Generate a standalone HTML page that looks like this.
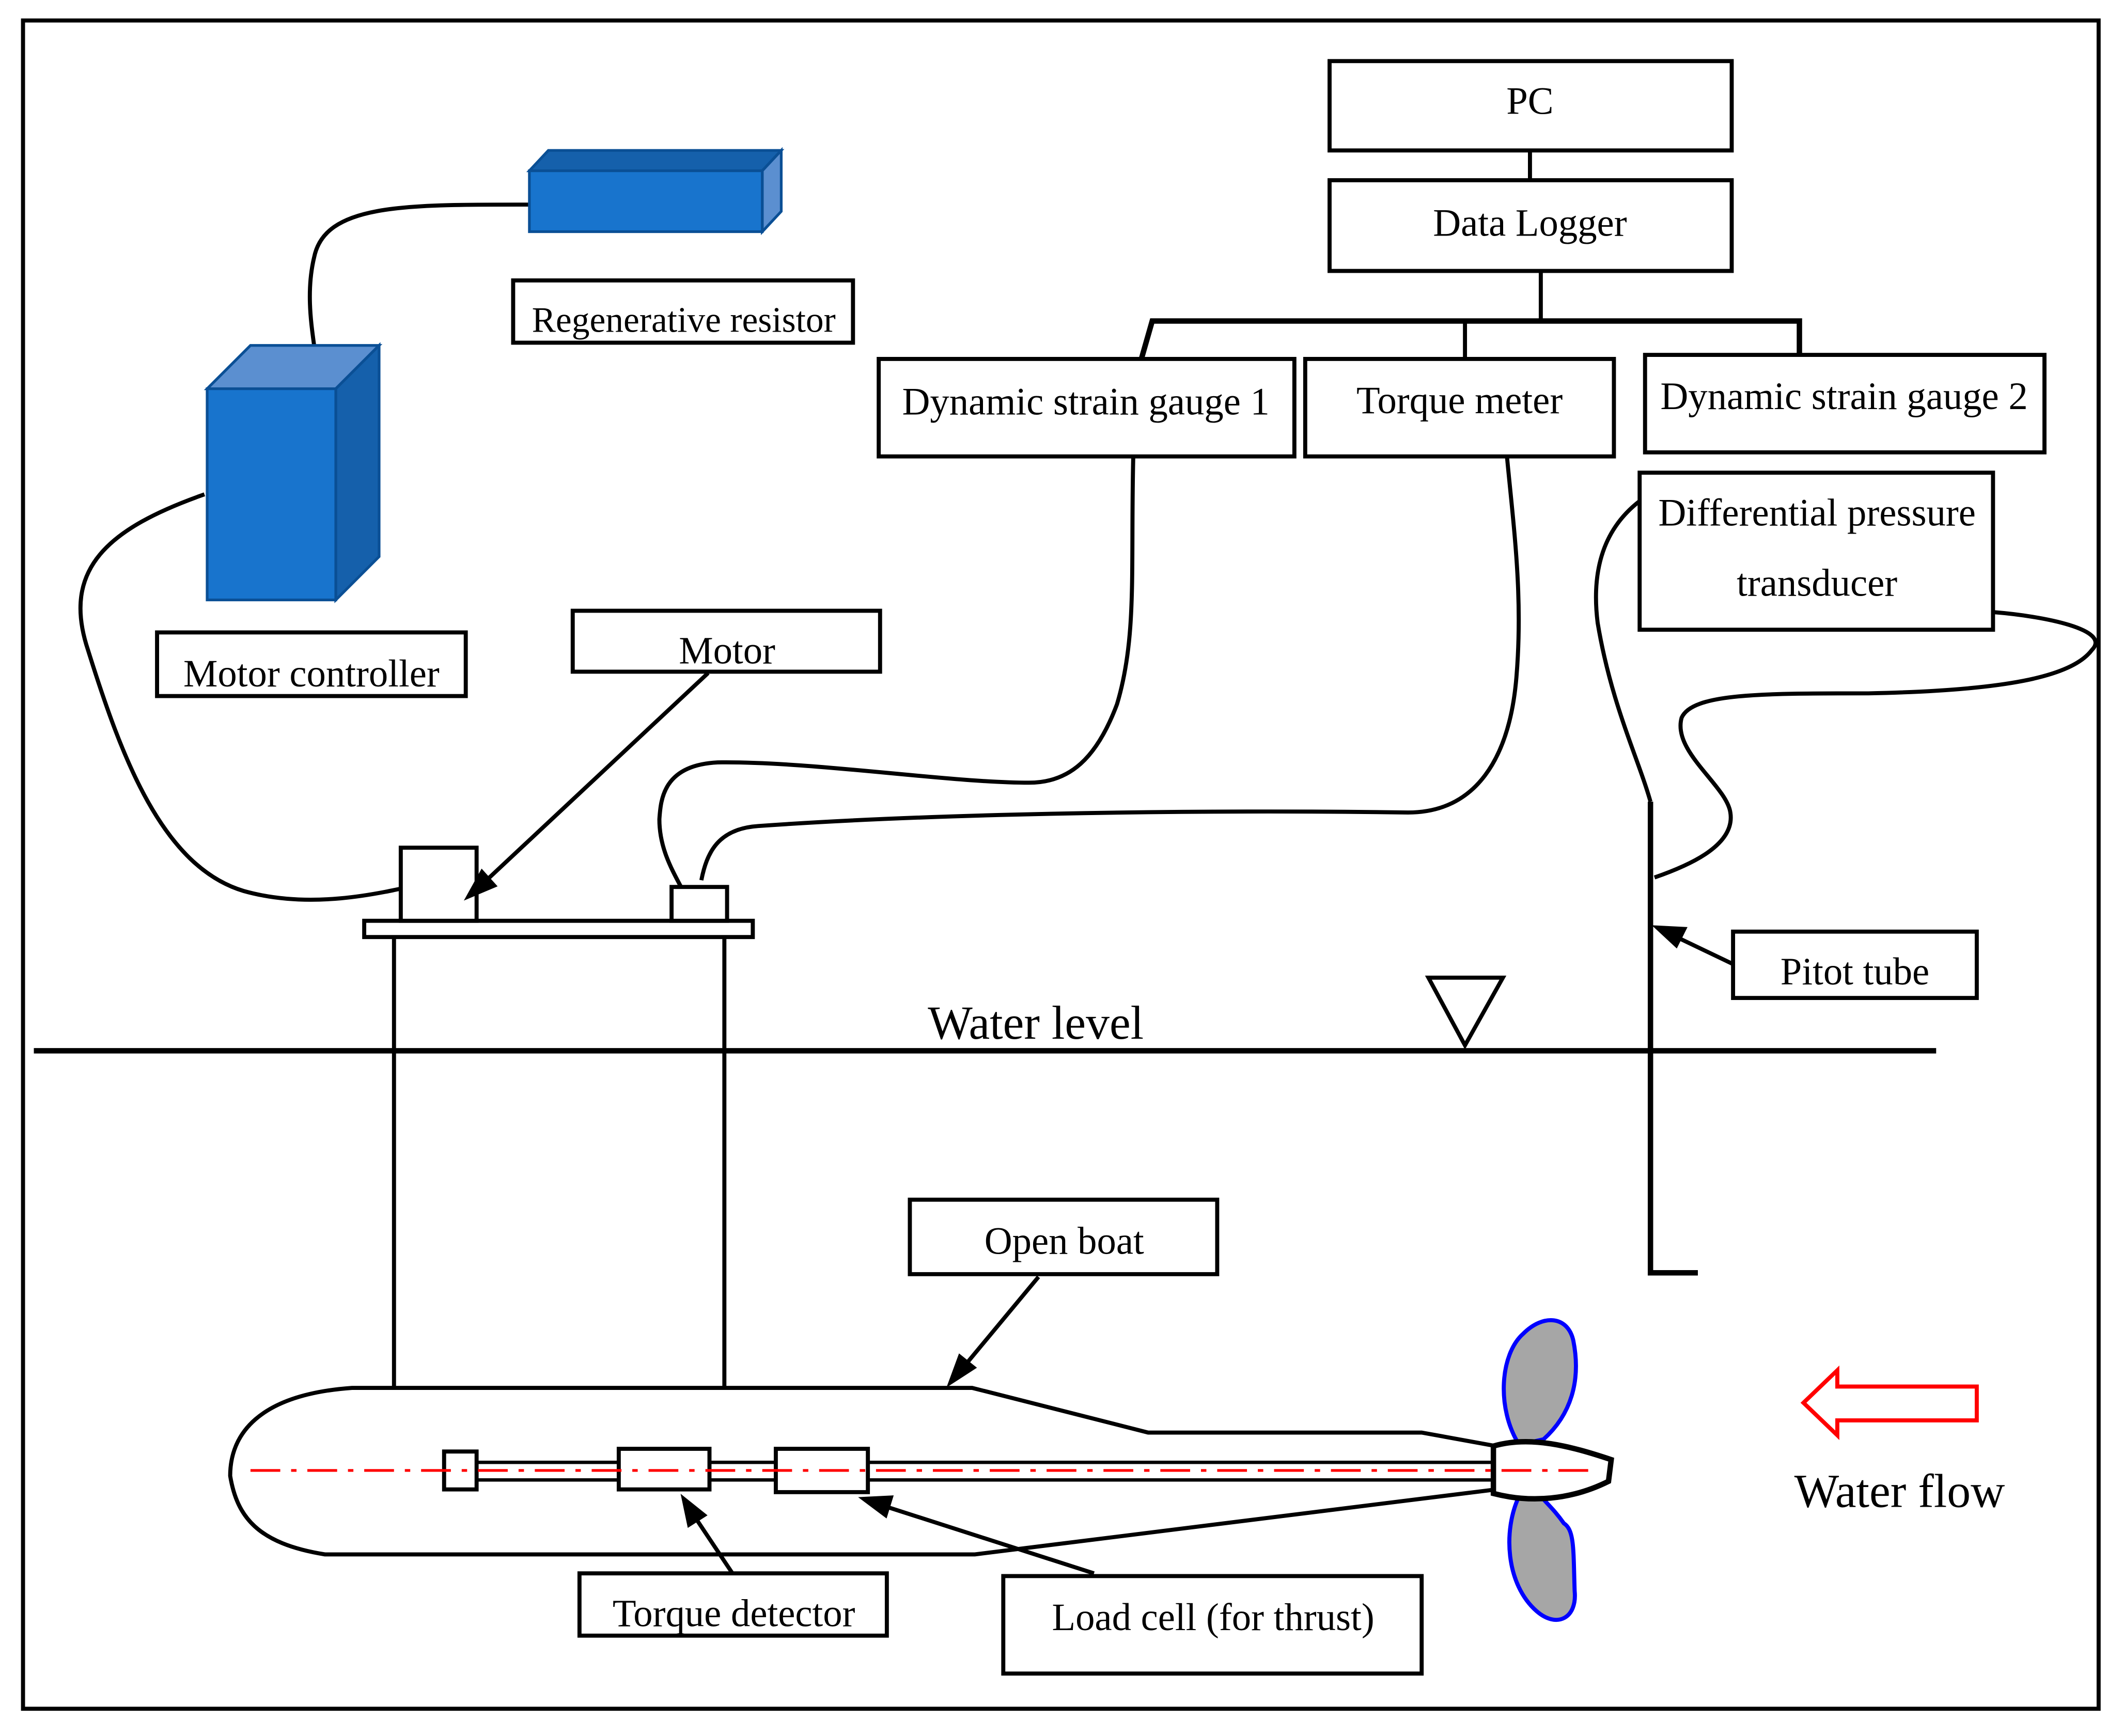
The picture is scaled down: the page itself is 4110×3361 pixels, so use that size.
<!DOCTYPE html>
<html><head><meta charset="utf-8"><style>html,body{margin:0;padding:0;background:#fff}svg{display:block}</style></head>
<body>
<svg width="4110" height="3361" viewBox="0 0 1568 1282" xmlns="http://www.w3.org/2000/svg" font-family="Liberation Serif, serif" font-size="28.5">
<rect x="0" y="0" width="1568" height="1282" fill="#fff"/>
<rect x="17" y="15" width="1533" height="1247" fill="none" stroke="#000" stroke-width="3"/>
<g fill="none" stroke="#000" stroke-width="3">
<rect x="982" y="45" width="297" height="66"/>
<line x1="1130" y1="111" x2="1130" y2="133"/>
<rect x="982" y="133" width="297" height="67"/>
<polyline points="1138,200 1138,237"/>
<polyline points="843,265 851,237 1329,237 1329,262" stroke-width="4"/>
<line x1="1082" y1="237" x2="1082" y2="265"/>
<rect x="649" y="265" width="307" height="72"/>
<rect x="964" y="265" width="228" height="72"/>
<rect x="1215" y="262" width="295" height="72"/>
<rect x="1211" y="349" width="261" height="116"/>
<rect x="379" y="207" width="251" height="46"/>
<rect x="116" y="467" width="228" height="47"/>
<rect x="423" y="451" width="227" height="45"/>
<rect x="1280" y="688" width="180" height="49"/>
<rect x="672" y="886" width="227" height="55"/>
<rect x="428" y="1162" width="227" height="46"/>
<rect x="741" y="1164" width="309" height="72"/>
<path d="M391,151 C300,151 240,150 232,190 C226,215 230,240 232,255"/>
<path d="M151,365 C80,390 45,420 65,480 C90,560 120,640 180,658 C230,672 280,660 315,652"/>
<path d="M837,337 C835,420 840,470 825,520 C810,560 790,578 760,578 C700,578 600,562 530,563 C490,565 488,590 487,605 C487,625 495,640 503,655"/>
<path d="M1113,337 C1118,390 1125,440 1120,500 C1115,560 1090,600 1040,600 C900,598 700,600 560,610 C530,612 522,630 518,650"/>
<path d="M1211,370 C1185,390 1175,420 1180,460 C1190,520 1210,560 1219,592"/>
<path d="M1472,452 C1510,455 1560,465 1545,480 C1530,500 1480,510 1380,512 C1300,512 1250,512 1242,530 C1235,555 1275,580 1278,600 C1282,625 1245,640 1222,648"/>
<rect x="269" y="680" width="287" height="12"/>
<rect x="296" y="626" width="56" height="54" fill="#fff"/>
<rect x="496" y="655" width="41" height="25" fill="#fff"/>
<line x1="291" y1="692" x2="291" y2="1025"/>
<line x1="535" y1="692" x2="535" y2="1025"/>
<line x1="25" y1="776" x2="1430" y2="776" stroke-width="4"/>
<polygon points="1055,722 1110,722 1082,772"/>
<polyline points="1219,592 1219,940 1254,940" stroke-width="4"/>
<path d="M260,1025 L718,1025 L848,1058 L1050,1058 L1105,1068 L1105,1100 L720,1148 L240,1148 C190,1140 175,1120 170,1090 C170,1060 190,1030 260,1025 Z"/>
<rect x="352" y="1080" width="753" height="13" stroke-width="2.5"/>
<rect x="328" y="1072" width="24" height="28" fill="#fff"/>
<rect x="457" y="1070" width="67" height="30" fill="#fff"/>
<rect x="573" y="1070" width="68" height="32" fill="#fff"/>
</g>
<path d="M1122,1067 C1105,1040 1108,1000 1125,985 C1140,970 1158,972 1162,990 C1168,1020 1160,1045 1140,1063 Z" fill="#a6a6a6" stroke="#0000ff" stroke-width="3"/>
<path d="M1122,1105 C1110,1130 1112,1170 1135,1190 C1150,1203 1165,1195 1163,1175 C1162,1145 1163,1130 1155,1125 C1148,1115 1142,1110 1138,1105 Z" fill="#a6a6a6" stroke="#0000ff" stroke-width="3"/>
<path d="M1103,1068 L1103,1103 C1130,1110 1160,1108 1188,1094 L1190,1078 C1160,1068 1130,1060 1103,1068 Z" fill="#fff" stroke="#000" stroke-width="4"/>
<line x1="185" y1="1086" x2="1180" y2="1086" stroke="#f00" stroke-width="2" stroke-dasharray="22,8,4,8"/>
<g stroke="#000" stroke-width="3" fill="#000">
<line x1="523" y1="497" x2="354" y2="655"/><polygon points="346,662 356,644 365,654" />
<line x1="1280" y1="712" x2="1232" y2="689"/><polygon points="1224,685 1244,686 1238,698"/>
<line x1="767" y1="943" x2="708" y2="1014"/><polygon points="702,1021 709,1002 719,1010"/>
<line x1="541" y1="1162" x2="509" y2="1114"/><polygon points="505,1107 520,1119 509,1126"/>
<line x1="808" y1="1162" x2="646" y2="1110"/><polygon points="638,1107 658,1106 654,1119"/>
</g>
<polygon points="391,126 405,111 577,111 563,126" fill="#1560ab" stroke="#0a4f95" stroke-width="2"/>
<polygon points="563,126 577,111 577,156 563,171" fill="#5b8fd0" stroke="#0a4f95" stroke-width="2"/>
<rect x="391" y="126" width="172" height="45" fill="#1874cd" stroke="#0a4f95" stroke-width="2"/>
<polygon points="153,287 185,255 280,255 248,287" fill="#5b8fd0" stroke="#0a4f95" stroke-width="2"/>
<polygon points="248,287 280,255 280,411 248,443" fill="#1560ab" stroke="#0a4f95" stroke-width="2"/>
<rect x="153" y="287" width="95" height="156" fill="#1874cd" stroke="#0a4f95" stroke-width="2"/>
<polygon points="1332,1036 1357,1012 1357,1024 1460,1024 1460,1049 1357,1049 1357,1060" fill="#fff" stroke="#f00" stroke-width="3"/>
<g text-anchor="middle" fill="#000">
<text x="1130" y="84">PC</text>
<text x="1130" y="174">Data Logger</text>
<text x="802" y="306">Dynamic strain gauge 1</text>
<text x="1078" y="305">Torque meter</text>
<text x="1362" y="302">Dynamic strain gauge 2</text>
<text x="1342" y="388">Differential pressure</text>
<text x="1342" y="440">transducer</text>
<text x="505" y="245" font-size="26.5">Regenerative resistor</text>
<text x="230" y="507">Motor controller</text>
<text x="537" y="490">Motor</text>
<text x="1370" y="727">Pitot tube</text>
<text x="786" y="926">Open boat</text>
<text x="542" y="1201">Torque detector</text>
<text x="896" y="1204">Load cell (for thrust)</text>
<text x="765" y="767" font-size="35">Water level</text>
<text x="1403" y="1113" font-size="35">Water flow</text>
</g>
</svg>
</body></html>
